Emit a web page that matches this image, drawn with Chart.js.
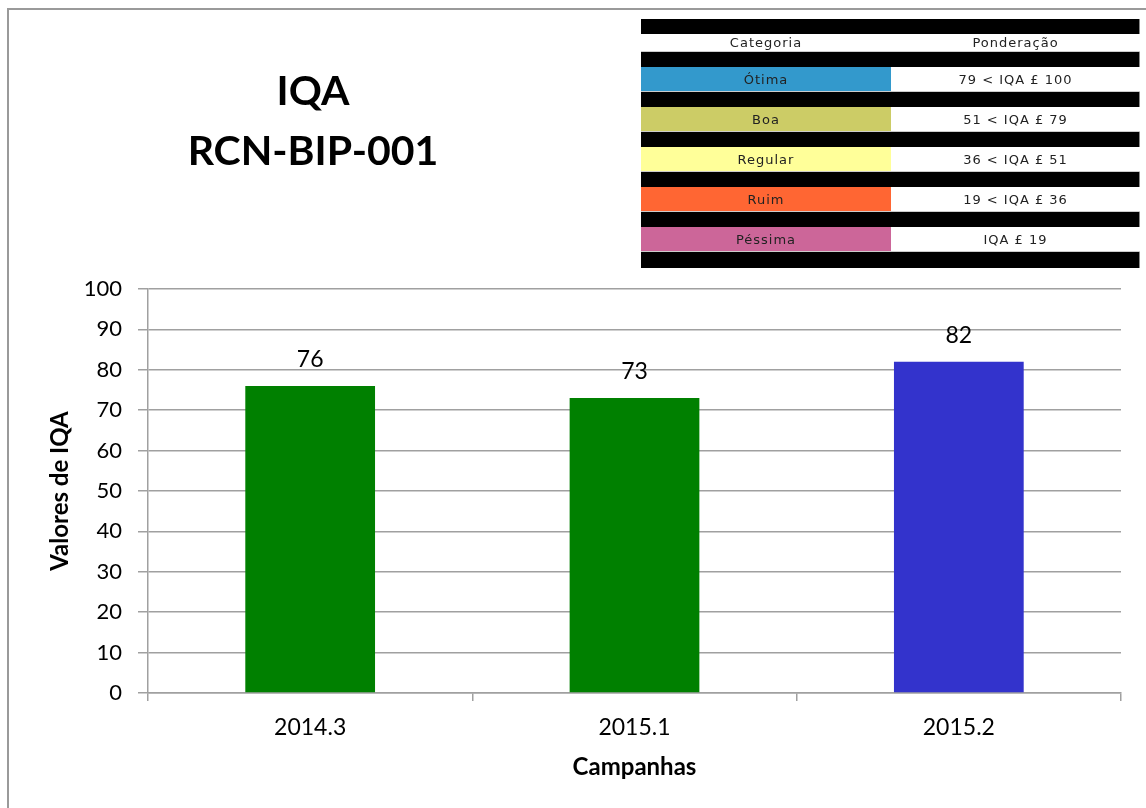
<!DOCTYPE html>
<html lang="pt">
<head>
    <meta charset="UTF-8">
    <title>IQA RCN-BIP-001</title>
    <style>
    body {
        margin: 0;
        width: 1146px;
        height: 808px;
        overflow: hidden;
        background-color: #fff;
        position: relative;
        font-family: Lato, "Open Sans", sans-serif;
    }
    .frame {
        position: absolute;
        left: 7px;
        top: 8px;
        width: 1200px;
        height: 900px;
        border-left: 2px solid #9a9a9a;
        border-top: 2px solid #9a9a9a;
    }
    .chart-box {
        position: absolute;
        left: 0;
        top: 0;
        width: 1146px;
        height: 808px;
    }
    .titulo {
        position: absolute;
        left: 113px;
        top: 60px;
        width: 400px;
        text-align: center;
        font-weight: bold;
        font-size: 41px;
        line-height: 60px;
        color: #000;
    }
    .tabela {
        position: absolute;
        left: 641px;
        top: 19px;
        width: 499px;
        font-family: "DejaVu Sans", sans-serif;
        font-size: 13px;
        letter-spacing: 1px;
        color: #222;
    }
    .faixa {
        height: 15px;
        background-color: #000;
        border-right: 1px solid #888;
    }
    .linha {
        display: flex;
        height: 25px;
        line-height: 25px;
        border-bottom: 1px solid #ccc;
        box-sizing: border-box;
    }
    .linha.cab {
        height: 18px;
        line-height: 18px;
    }
    .linha div {
        width: 250px;
        text-align: center;
    }
    .linha div + div {
        width: 249px;
        background-color: #fff;
    }
    </style>
</head>
<body>
<div class="frame"></div>
<div class="chart-box"><canvas id="grafico" width="1146" height="808"></canvas></div>
<div class="titulo">IQA<br>RCN-BIP-001</div>
<div class="tabela" id="tabela"></div>

<script src="https://cdn.jsdelivr.net/npm/chart.js"></script>
<script>
    // dados do grafico
    var campanhas = ['2014.3', '2015.1', '2015.2'];
    var valoresIQA = [76, 73, 82];
    var yTicks = [0, 10, 20, 30, 40, 50, 60, 70, 80, 90, 100];

    // tabela de categorias
    var categorias = ['Ótima', 'Boa', 'Regular', 'Ruim', 'Péssima'];
    var ponderacao = ['79 < IQA £ 100', '51 < IQA £ 79', '36 < IQA £ 51', '19 < IQA £ 36', 'IQA £ 19'];

    var coresCategorias = ['#3399cc', '#cccc66', '#ffff99', '#ff6633', '#cc6699'];
    var coresBarras = ['#008000', '#008000', '#3333cc'];
    var corGrade = '#a0a0a0';

    // monta a tabela de legenda
    var tabela = document.getElementById('tabela');
    var html = '<div class="faixa"></div>';
    html += '<div class="linha cab"><div style="background:#fff">Categoria</div><div>Ponderação</div></div>';
    categorias.forEach(function(cat, i) {
        html += '<div class="faixa"></div>';
        html += '<div class="linha"><div style="background:' + coresCategorias[i] + '">' + cat + '</div><div>' + ponderacao[i] + '</div></div>';
    });
    html += '<div class="faixa" style="height:16px"></div>';
    tabela.innerHTML = html;

    // rotulos de valor acima das barras
    var rotulosPlugin = {
        id: 'rotulos',
        afterDatasetsDraw: function(chart) {
            var ctx = chart.ctx;
            var meta = chart.getDatasetMeta(0);
            ctx.save();
            ctx.font = '23px Lato';
            ctx.fillStyle = '#000';
            ctx.textAlign = 'center';
            ctx.textBaseline = 'alphabetic';
            meta.data.forEach(function(bar, i) {
                ctx.fillText(String(valoresIQA[i]), bar.x, bar.y - 19);
            });
            ctx.restore();
        }
    };

    var ctx = document.getElementById('grafico').getContext('2d');
    new Chart(ctx, {
        type: 'bar',
        data: {
            labels: campanhas,
            datasets: [{
                data: valoresIQA,
                backgroundColor: coresBarras,
                barPercentage: 0.4,
                categoryPercentage: 1.0
            }]
        },
        options: {
            responsive: false,
            animation: false,
            layout: {
                padding: { top: 289, right: 25, left: 0, bottom: 0 }
            },
            plugins: {
                legend: { display: false },
                title: { display: false },
                tooltip: { enabled: false }
            },
            scales: {
                x: {
                    afterFit: function(scale) { scale.height = 115; },
                    grid: {
                        offset: true,
                        drawOnChartArea: false,
                        drawTicks: true,
                        tickLength: 8,
                        color: corGrade,
                        lineWidth: 1.5
                    },
                    border: { color: corGrade, width: 1.5 },
                    ticks: {
                        color: '#000',
                        padding: 13,
                        font: { family: 'Lato', size: 23 }
                    },
                    title: {
                        display: true,
                        text: 'Campanhas',
                        color: '#000',
                        font: { family: 'Lato', size: 24, weight: 'bold' },
                        padding: { top: 0, bottom: 26 }
                    }
                },
                y: {
                    min: 0,
                    max: 100,
                    afterFit: function(scale) { scale.width = 148; },
                    afterBuildTicks: function(scale) {
                        scale.ticks = yTicks.map(function(v) { return { value: v }; });
                    },
                    grid: {
                        color: corGrade,
                        lineWidth: 1.5,
                        tickLength: 10
                    },
                    border: { color: corGrade, width: 1.5 },
                    ticks: {
                        color: '#000',
                        padding: 16,
                        font: { family: 'Lato', size: 22 }
                    },
                    title: {
                        display: true,
                        text: 'Valores de IQA',
                        color: '#000',
                        font: { family: 'Lato', size: 24, weight: 'bold' },
                        padding: { top: 46, bottom: 0 }
                    }
                }
            }
        },
        plugins: [rotulosPlugin]
    });
</script>
</body>
</html>
